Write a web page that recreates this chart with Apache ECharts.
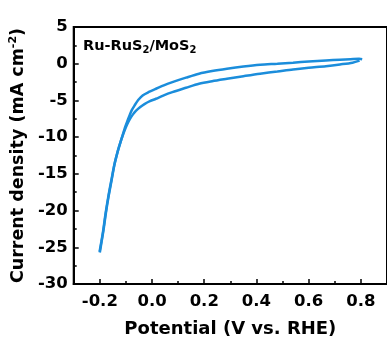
<!DOCTYPE html>
<html>
<head>
<meta charset="utf-8">
<script src="https://cdn.jsdelivr.net/npm/echarts@6/dist/echarts.min.js"></script>
<style>
  html, body { margin: 0; padding: 0; background: #fff; }
  #chart { width: 387px; height: 345px; }
</style>
</head>
<body>
<div id="chart"></div>
<script>
// Cyclic voltammogram of Ru-RuS2/MoS2: potential (V vs. RHE) vs current density (mA cm^-2)

// Branch scanned from -0.2 V up to 0.8 V (larger current magnitude at the knee)
const forwardPotential = [-0.200, -0.193, -0.186, -0.177, -0.167, -0.155, -0.143, -0.131, -0.121, -0.113, -0.104, -0.095, -0.085, -0.073, -0.061, -0.045, -0.029, -0.008, 0.015, 0.045, 0.078, 0.130, 0.180, 0.230, 0.287, 0.350, 0.414, 0.480, 0.540, 0.600, 0.666, 0.720, 0.768, 0.795];
const forwardCurrent   = [-25.7, -24.2, -22.7, -20.4, -18.2, -15.9, -13.6, -11.9, -10.7, -9.85, -9.0, -8.25, -7.55, -6.9, -6.4, -5.9, -5.5, -5.1, -4.77, -4.3, -3.87, -3.28, -2.73, -2.38, -2.05, -1.70, -1.36, -1.06, -0.78, -0.55, -0.33, -0.10, 0.14, 0.42];

// Return branch, scanned from 0.8 V back down to -0.2 V
const reversePotential = [0.805, 0.793, 0.760, 0.720, 0.666, 0.600, 0.540, 0.480, 0.414, 0.350, 0.287, 0.230, 0.180, 0.130, 0.078, 0.045, 0.015, -0.012, -0.036, -0.053, -0.067, -0.078, -0.086, -0.096, -0.105, -0.113, -0.122, -0.132, -0.144, -0.156, -0.168, -0.178, -0.187, -0.194, -0.201];
const reverseCurrent   = [0.62, 0.68, 0.62, 0.55, 0.45, 0.30, 0.14, 0.00, -0.14, -0.38, -0.68, -1.00, -1.36, -1.90, -2.51, -2.95, -3.41, -3.85, -4.32, -4.95, -5.69, -6.35, -7.05, -7.95, -8.83, -9.8, -10.8, -12.0, -13.7, -15.9, -18.2, -20.4, -22.7, -24.2, -25.6];

// Axis ranges and tick positions
const xMin = -0.3, xMax = 0.9;
const xMajorTicks = [-0.2, 0.0, 0.2, 0.4, 0.6, 0.8];
const yMin = -30, yMax = 5, yStep = 5;

const sampleLabel = 'Ru-RuS{sub|2}/MoS{sub|2}';
const xTitle = 'Potential (V vs. RHE)';
const yTitle = 'Current density (mA cm{sup|-2})';

const FONT = 'DejaVu Sans';
const LINE_COLOR = '#1b8ddb';

const forwardData = forwardPotential.map((v, i) => [v, forwardCurrent[i]]);
const reverseData = reversePotential.map((v, i) => [v, reverseCurrent[i]]);

const chart = echarts.init(document.getElementById('chart'), null, { renderer: 'canvas' });

chart.setOption({
  animation: false,
  backgroundColor: '#fff',
  grid: { left: 73, top: 27, width: 317, height: 257, show: true, borderColor: '#000', borderWidth: 2, backgroundColor: 'transparent' },
  xAxis: [
    {
      type: 'value', min: xMin, max: xMax,
      position: 'bottom',
      name: xTitle, nameLocation: 'middle', nameGap: 36,
      nameTextStyle: { fontFamily: FONT, fontWeight: 'bold', fontSize: 18, color: '#000' },
      axisLine: { show: true, onZero: false, lineStyle: { color: '#000', width: 2 } },
      axisTick: { show: true, inside: true, length: 5, lineStyle: { color: '#000', width: 1.5 }, customValues: xMajorTicks },
      axisLabel: {
        show: true, margin: 9, customValues: xMajorTicks,
        fontFamily: FONT, fontWeight: 'bold', fontSize: 16.5, color: '#000',
        formatter: v => v.toFixed(1)
      },
      splitLine: { show: false }
    },
    {
      // minor ticks every 0.1 V
      type: 'value', min: xMin, max: xMax, interval: 0.1,
      position: 'bottom',
      axisLine: { show: false, onZero: false },
      axisTick: { show: true, inside: true, length: 3, lineStyle: { color: '#000', width: 1.5 } },
      axisLabel: { show: false },
      splitLine: { show: false }
    }
  ],
  yAxis: {
    type: 'value', min: yMin, max: yMax, interval: yStep,
    name: yTitle, nameLocation: 'middle', nameGap: 30,
    nameTextStyle: {
      fontFamily: FONT, fontWeight: 'bold', fontSize: 17.5, color: '#000',
      rich: { sup: { fontFamily: FONT, fontWeight: 'bold', fontSize: 11, color: '#000', padding: [0, 0, 9, 0] } }
    },
    axisLine: { show: true, onZero: false, lineStyle: { color: '#000', width: 2 } },
    axisTick: { show: true, inside: true, length: 5, lineStyle: { color: '#000', width: 1.5 } },
    minorTick: { show: true, splitNumber: 2, length: 3, lineStyle: { color: '#000', width: 1.5 } },
    axisLabel: { margin: 6, fontFamily: FONT, fontWeight: 'bold', fontSize: 16.5, color: '#000' },
    splitLine: { show: false },
    minorSplitLine: { show: false }
  },
  graphic: [{
    type: 'text', left: 83, top: 37,
    style: {
      text: sampleLabel,
      fontFamily: FONT, fontWeight: 'bold', fontSize: 14.5, fill: '#000', lineHeight: 18,
      rich: {
        sub: { fontFamily: FONT, fontWeight: 'bold', fontSize: 10, fill: '#000', lineHeight: 18, verticalAlign: 'bottom' }
      }
    }
  }],
  series: [
    {
      type: 'line', xAxisIndex: 0, data: forwardData, showSymbol: false, smooth: 0.3,
      lineStyle: { color: LINE_COLOR, width: 2.5 }
    },
    {
      type: 'line', xAxisIndex: 0, data: reverseData, showSymbol: false, smooth: 0.3,
      lineStyle: { color: LINE_COLOR, width: 2.5 }
    }
  ]
});
</script>
</body>
</html>
